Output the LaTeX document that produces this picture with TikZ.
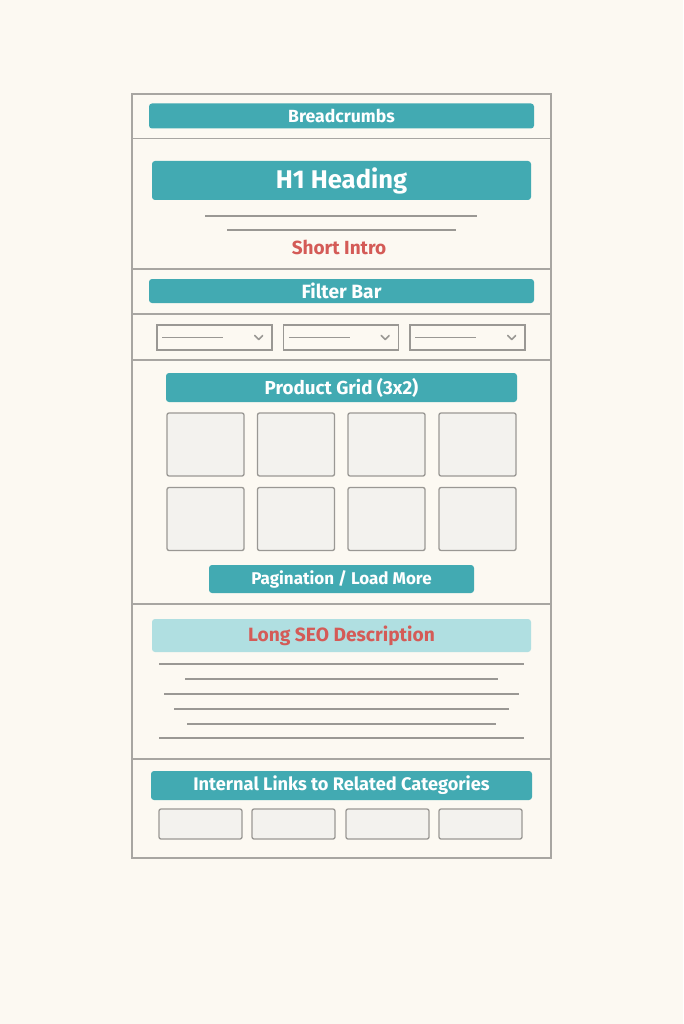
\documentclass[tikz,border=0pt]{standalone}
\usepackage{fontspec}
\setmainfont{Fira Sans}
\definecolor{bgc}{HTML}{FCF9F2}
\definecolor{tealc}{HTML}{42AAB2}
\definecolor{lteal}{HTML}{B0DFE1}
\definecolor{redc}{HTML}{D45B57}
\definecolor{framec}{HTML}{A8A6A2}
\definecolor{linec}{HTML}{9A9894}
\definecolor{cellc}{HTML}{F3F2EE}
\tikzset{
  bar/.style={fill=tealc, rounded corners=3pt, inner sep=0pt, text=white, font=\bfseries},
  cell/.style={draw=linec, fill=cellc, line width=1.3pt, rounded corners=2pt, inner sep=0pt},
  dropbox/.style={draw=linec, fill=bgc, line width=1.3pt, inner sep=0pt, minimum width=115pt, minimum height=25pt},
  textline/.style={draw=linec, line width=1.2pt},
  frameline/.style={draw=framec, line width=1.4pt}
}
\newcommand{\fs}[1]{\fontsize{#1}{#1}\selectfont}
\begin{document}
\begin{tikzpicture}[x=1pt,y=-1pt]
\useasboundingbox[fill=bgc] (0,0) rectangle (683,1024);
% frame and dividers
\draw[frameline] (132,94) rectangle (551,858);
\foreach \yy in {138.5,269,314,360,604,759} \draw[frameline] (132,\yy) -- (551,\yy);
% breadcrumbs
\node[bar, minimum width=385pt, minimum height=25pt, font=\bfseries\fs{17.6}] (bc) at (341.5,116) {Breadcrumbs};
% H1
\node[bar, minimum width=379pt, minimum height=39pt, font=\bfseries\fs{25.6}] (h1) at (341.5,180.5) {H1 Heading};
\draw[textline] (205,216) -- (477,216);
\draw[textline] (227,230) -- (456,230);
\node[text=redc, font=\bfseries\fs{19}, inner sep=0pt] (intro) at (339,247) {Short Intro};
% filter bar
\node[bar, minimum width=385pt, minimum height=24pt, font=\bfseries\fs{19.2}] (fb) at (341.5,291) {Filter Bar};
\foreach \nm/\cx in {d1/214.5,d2/341,d3/467.5}{
  \node[dropbox] (\nm) at (\cx,337.5) {};
  \draw[textline, line width=1pt] ([xshift=6pt]\nm.west) -- ([xshift=67pt]\nm.west);
  \draw[linec, line width=1.6pt, line cap=round, line join=round] ([xshift=-18pt,yshift=2pt]\nm.east) -- ([xshift=-14pt,yshift=-2pt]\nm.east) -- ([xshift=-10pt,yshift=2pt]\nm.east);
}
% product grid
\node[bar, minimum width=351pt, minimum height=29pt, font=\bfseries\fs{18.8}] (pg) at (341.5,387.5) {Product Grid (3x2)};
\foreach \r/\cy in {1/444.5,2/519}{
  \foreach \c/\cx in {1/205.5,2/296,3/386.5,4/477.5}{
    \node[cell, minimum width=77pt, minimum height=63pt] (g\r\c) at (\cx,\cy) {};
  }
}
\node[bar, minimum width=265pt, minimum height=28pt, font=\bfseries\fs{17}] (pag) at (341.5,579) {Pagination / Load More};
% SEO description
\node[bar, fill=lteal, text=redc, minimum width=379pt, minimum height=33pt, font=\bfseries\fs{19.2}] (seo) at (341.5,635.5) {Long SEO Description};
\draw[textline] (159,664) -- (524,664);
\draw[textline] (185,679) -- (498,679);
\draw[textline] (164,694) -- (519,694);
\draw[textline] (174,709) -- (509,709);
\draw[textline] (187,724) -- (496,724);
\draw[textline] (159,738) -- (524,738);
% internal links
\node[bar, minimum width=381pt, minimum height=29pt, font=\bfseries\fs{18.2}] (il) at (341.5,785.5) {Internal Links to Related Categories};
\foreach \nm/\cx in {l1/200.5,l2/293.5,l3/387.5,l4/480.5}{
  \node[cell, minimum width=83pt, minimum height=30pt] (\nm) at (\cx,824) {};
}
\end{tikzpicture}
\end{document}
